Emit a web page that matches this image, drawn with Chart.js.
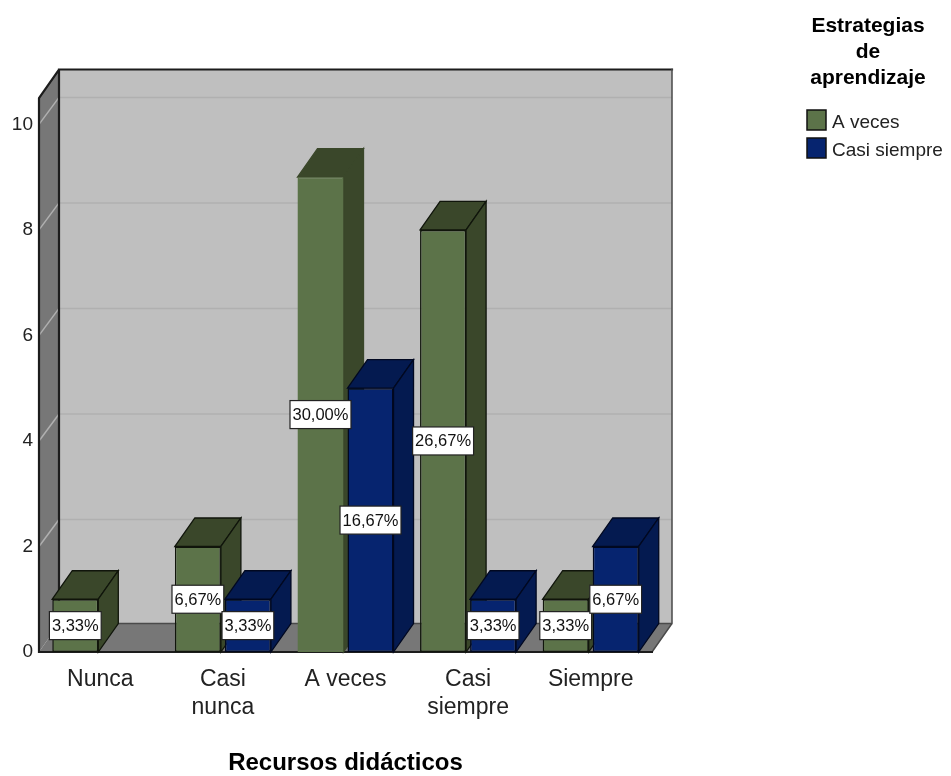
<!DOCTYPE html>
<html>
<head>
<meta charset="utf-8">
<style>
    html, body { margin: 0; padding: 0; background: #fff; }
    canvas { display: block; filter: blur(0.4px); }
</style>
<script src="https://cdn.jsdelivr.net/npm/chart.js@4/dist/chart.umd.min.js"></script>
</head>
<body>
<canvas id="chart" width="951" height="776"></canvas>
<script>
// values
const categories = ['Nunca', ['Casi', 'nunca'], 'A veces', ['Casi', 'siempre'], 'Siempre'];
const aVeces = [1, 2, 9, 8, 1];
const casiSiempre = [null, 1, 5, 1, 2];
const aVecesLabels = ['3,33%', '6,67%', '30,00%', '26,67%', '3,33%'];
const casiSiempreLabels = [null, '3,33%', '16,67%', '3,33%', '6,67%'];
const yTicks = [0, 2, 4, 6, 8, 10];
const legendTitle = ['Estrategias', 'de', 'aprendizaje'];

const FONT = '"Liberation Sans", Arial, sans-serif';
const DX = 20, DY = -28.5; // depth of the 3D box
const GRID_DY = -27;

// the tall A veces bar has no dark outline in the original
const greenEdges = ['#10150b', '#10150b', '#5c7349', '#10150b', '#10150b'];
const greenDepthEdges = ['#10150b', '#10150b', '#3a472a', '#10150b', '#10150b'];
const blueEdges = ['#010820', '#010820', '#010820', '#010820', '#010820'];

function poly(ctx, pts, fill, stroke, lw) {
    ctx.beginPath();
    pts.forEach((p, i) => i ? ctx.lineTo(p[0], p[1]) : ctx.moveTo(p[0], p[1]));
    ctx.closePath();
    if (fill) { ctx.fillStyle = fill; ctx.fill(); }
    if (stroke) { ctx.strokeStyle = stroke; ctx.lineWidth = lw || 1; ctx.stroke(); }
}

// walls, floor and grid lines behind the bars
const boxPlugin = {
    id: 'box',
    beforeDatasetsDraw(chart) {
        const ctx = chart.ctx, a = chart.chartArea, y = chart.scales.y;
        ctx.save();
        poly(ctx, [[a.left + DX, a.top + DY], [a.right + DX, a.top + DY], [a.right + DX, a.bottom + DY], [a.left + DX, a.bottom + DY]], '#bfbfbf');
        poly(ctx, [[a.left, a.top], [a.left + DX, a.top + DY], [a.left + DX, a.bottom + DY], [a.left, a.bottom]], '#777777');
        poly(ctx, [[a.left, a.bottom], [a.left + DX, a.bottom + DY], [a.right + DX, a.bottom + DY], [a.right, a.bottom]], '#777777');
        yTicks.forEach(t => {
            if (t === 0) return;
            const py = y.getPixelForValue(t);
            ctx.lineWidth = 1.5;
            ctx.strokeStyle = '#b0b0b0';
            ctx.beginPath();
            ctx.moveTo(a.left + DX, py + GRID_DY);
            ctx.lineTo(a.right + DX, py + GRID_DY);
            ctx.stroke();
            ctx.beginPath();
            ctx.moveTo(a.left, py);
            ctx.lineTo(a.left + DX, py + GRID_DY);
            ctx.stroke();
        });
        ctx.strokeStyle = '#1c1c1c';
        ctx.lineCap = 'square';
        ctx.lineWidth = 2.2;
        ctx.beginPath();
        ctx.moveTo(a.left, a.bottom);
        ctx.lineTo(a.left, a.top);
        ctx.lineTo(a.left + DX, a.top + DY);
        ctx.lineTo(a.right + DX, a.top + DY);
        ctx.moveTo(a.left + DX, a.top + DY);
        ctx.lineTo(a.left + DX, a.bottom + DY);
        ctx.stroke();
        ctx.strokeStyle = '#4a4a4a';
        ctx.lineWidth = 1.5;
        ctx.beginPath();
        ctx.moveTo(a.right + DX, a.top + DY);
        ctx.lineTo(a.right + DX, a.bottom + DY);
        ctx.lineTo(a.right, a.bottom);
        ctx.moveTo(a.left + DX, a.bottom + DY);
        ctx.lineTo(a.right + DX, a.bottom + DY);
        ctx.stroke();
        ctx.strokeStyle = '#1c1c1c';
        ctx.lineWidth = 2;
        ctx.beginPath();
        ctx.moveTo(a.left, a.bottom);
        ctx.lineTo(a.right, a.bottom);
        ctx.stroke();

        // top and side faces of each bar
        chart.data.datasets.forEach((ds, i) => {
            chart.getDatasetMeta(i).data.forEach((bar, j) => {
                if (ds.data[j] === null) return;
                const l = bar.x - bar.width / 2, r = bar.x + bar.width / 2;
                poly(ctx, [[l, bar.y], [l + DX, bar.y + DY], [r + DX, bar.y + DY], [r, bar.y]], ds.depthColor, ds.depthEdges[j], 1.3);
                poly(ctx, [[r, bar.y], [r + DX, bar.y + DY], [r + DX, bar.base + DY], [r, bar.base]], ds.depthColor, ds.depthEdges[j], 1.3);
            });
        });
        ctx.restore();
    },
    afterDatasetsDraw(chart) {
        const ctx = chart.ctx;
        ctx.save();
        ctx.font = '16.5px ' + FONT;
        ctx.textAlign = 'center';
        ctx.textBaseline = 'middle';
        chart.data.datasets.forEach((ds, i) => {
            chart.getDatasetMeta(i).data.forEach((bar, j) => {
                const text = ds.pctLabels[j];
                if (!text) return;
                const w = ctx.measureText(text).width + 5, h = 28;
                const cy = (bar.y + bar.base) / 2;
                ctx.fillStyle = '#fff';
                ctx.strokeStyle = '#222';
                ctx.lineWidth = 1.2;
                ctx.fillRect(bar.x - w / 2, cy - h / 2, w, h);
                ctx.strokeRect(bar.x - w / 2, cy - h / 2, w, h);
                ctx.fillStyle = '#111';
                ctx.fillText(text, bar.x, cy + 1);
            });
        });
        ctx.restore();
    },
    afterDraw(chart) {
        const ctx = chart.ctx;
        ctx.save();
        ctx.fillStyle = '#000';
        ctx.textBaseline = 'middle';
        ctx.textAlign = 'center';
        ctx.font = 'bold 21px ' + FONT;
        legendTitle.forEach((t, i) => ctx.fillText(t, 868, 26 + i * 26));
        ctx.textAlign = 'left';
        ctx.font = '19px ' + FONT;
        chart.data.datasets.forEach((ds, i) => {
            const y = 110 + i * 28;
            ctx.fillStyle = ds.backgroundColor;
            ctx.strokeStyle = '#111';
            ctx.lineWidth = 1.5;
            ctx.fillRect(807, y, 19, 20);
            ctx.strokeRect(807, y, 19, 20);
            ctx.fillStyle = '#222';
            ctx.fillText(ds.label, 832, y + 13);
        });
        ctx.restore();
    }
};

new Chart(document.getElementById('chart'), {
    type: 'bar',
    data: {
        labels: categories,
        datasets: [
            { label: 'A veces', data: aVeces, pctLabels: aVecesLabels, backgroundColor: '#5c7349', depthColor: '#3a472a', borderColor: greenEdges, depthEdges: greenDepthEdges },
            { label: 'Casi siempre', data: casiSiempre, pctLabels: casiSiempreLabels, backgroundColor: '#06246f', depthColor: '#041a50', borderColor: blueEdges, depthEdges: blueEdges }
        ]
    },
    options: {
        responsive: false,
        animation: false,
        devicePixelRatio: 1,
        layout: { padding: { top: 98, right: 299, left: 0, bottom: 0 } },
        datasets: { bar: { categoryPercentage: 0.816, barPercentage: 0.92, borderWidth: 1.5, borderSkipped: false } },
        plugins: { legend: { display: false }, tooltip: { enabled: false } },
        scales: {
            x: {
                grid: { display: false, drawTicks: false },
                border: { display: false },
                ticks: { color: '#222', font: { family: FONT, size: 23, lineHeight: 1.22 }, padding: 14, maxRotation: 0, autoSkip: false },
                title: { display: true, text: 'Recursos didácticos', color: '#000', font: { family: FONT, size: 24, weight: 'bold', lineHeight: 1 }, padding: { top: 31, bottom: 1 } },
                afterFit(scale) { scale.height = 124; }
            },
            y: {
                min: 0,
                max: 10.5,
                grid: { display: false, drawTicks: false },
                border: { display: false },
                ticks: { color: '#222', font: { family: FONT, size: 19 }, padding: 6, includeBounds: false },
                afterBuildTicks(scale) { scale.ticks = yTicks.map(v => ({ value: v })); },
                afterFit(scale) { scale.width = 39; }
            }
        }
    },
    plugins: [boxPlugin]
});
</script>
</body>
</html>
